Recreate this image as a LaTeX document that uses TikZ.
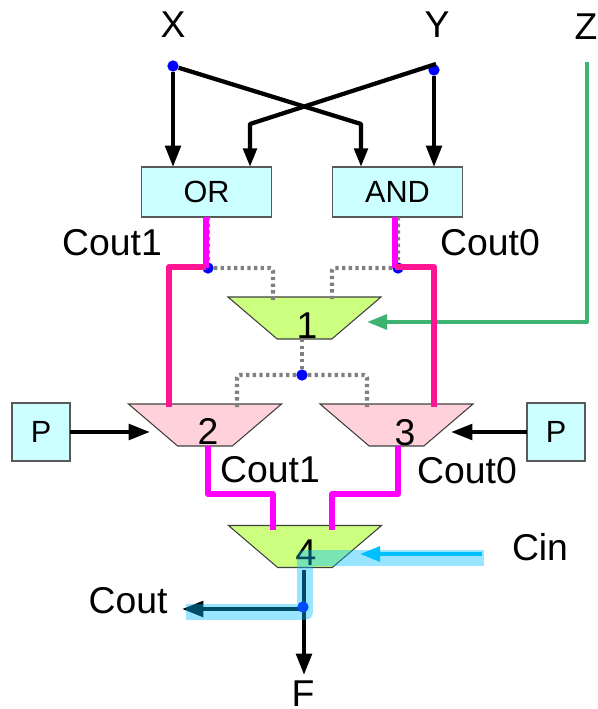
\documentclass[tikz,border=0pt]{standalone}
\usepackage{fontspec}
\setmainfont{Liberation Sans}
\usetikzlibrary{arrows.meta, positioning, shapes.geometric}
\definecolor{boxcyan}{RGB}{204, 255, 255}
\definecolor{muxgreen}{RGB}{204, 255, 128}
\definecolor{muxpink}{RGB}{255, 209, 219}
\definecolor{hotpink}{RGB}{255, 20, 147}
\definecolor{hotmagenta}{RGB}{255, 0, 255}
\definecolor{selgreen}{RGB}{60, 179, 113}
\definecolor{carryblue}{RGB}{0, 191, 255}
\tikzset{
  blockbox/.style={rectangle, draw=black!65, fill=boxcyan, line width=0.8pt, outer sep=0pt,
              font=\fontsize{23}{25}\selectfont},
  mux/.style={trapezium, shape border rotate=180, trapezium left angle=48, trapezium right angle=48,
              trapezium stretches=true, minimum width=114.75pt, minimum height=31.5pt,
              inner sep=1pt, outer sep=0pt, draw=black!75, line width=0.8pt},
  muxnum/.style={anchor=base, inner sep=0pt, font=\fontsize{28}{30}\selectfont},
  name label/.style={anchor=base, inner sep=0pt, font=\fontsize{28}{30}\selectfont},
  junction/.style={circle, fill=blue, inner sep=0pt, minimum size=8.5pt},
  flow/.style={-{Triangle[length=16pt, width=11.5pt]}, line width=3.2pt, draw=black, line join=round},
  flowsmall/.style={-{Triangle[length=14pt, width=10pt]}, line width=3.2pt, draw=black, line join=round},
  dotted link/.style={draw=black!50, line width=3.2pt, dash pattern=on 2.5pt off 2.5pt, rounded corners=2pt},
  pinkline/.style={draw=hotpink, line width=4.4pt, line join=round},
  magline/.style={draw=hotmagenta, line width=4.4pt, line join=round},
  selflow/.style={-{Triangle[length=15pt, width=11pt]}, draw=selgreen, line width=3pt, line join=round},
  carryflow/.style={-{Triangle[length=15pt, width=11pt]}, draw=carryblue, line width=3pt},
  carrypath/.style={draw=carryblue, opacity=0.4, line width=12pt, line join=round},
}
\begin{document}
\begin{tikzpicture}[x=0.75pt, y=-0.75pt]
    \useasboundingbox (0,0) rectangle (598,709);

    % blocks
    \node[blockbox, minimum width=98pt, minimum height=37.5pt] (orbox) at (206.5,192) {OR};
    \node[blockbox, minimum width=98pt, minimum height=37.5pt] (andbox) at (397.5,192) {AND};
    \node[blockbox, minimum width=43.5pt, minimum height=43.5pt] (pleft) at (41,432) {P};
    \node[blockbox, minimum width=43.5pt, minimum height=43.5pt] (pright) at (556,432) {P};

    % muxes
    \node[mux, fill=muxgreen] (muxone) at (304.5,318) {};
    \node[mux, fill=muxpink] (muxtwo) at (205,425) {};
    \node[mux, fill=muxpink] (muxthree) at (396.5,425) {};
    \node[mux, fill=muxgreen] (muxfour) at (305,546.5) {};

    \node[muxnum] (numone) at (307,338) {1};
    \node[muxnum] (numtwo) at (208,444) {2};
    \node[muxnum] (numthree) at (405,445) {3};
    \node[muxnum] (numfour) at (306,565) {4};

    % junctions and bends
    \node[junction] (dotx) at (173,66) {};
    \node[junction] (doty) at (434,70) {};
    \node[junction] (dotcoutl) at (208,268) {};
    \node[junction] (dotcoutr) at (398,268) {};
    \node[junction] (dotmid) at (302,375) {};
    \coordinate (ystart) at (436,64);
    \coordinate (bendor) at (250,124);
    \coordinate (bendand) at (361,124);
    \coordinate (zstart) at (587,62);
    \coordinate (zbend) at (587,322);
    \coordinate (cinstart) at (482,554);
    \coordinate (cinend) at (360,554);
    \coordinate (outjoin) at (304,609);
    \coordinate (coutend) at (182,609);
    \coordinate (ftip) at (304,675);

    % labels
    \node[name label] (xlabel) at (173,38) {X};
    \node[name label] (ylabel) at (437,38) {Y};
    \node[name label] (zlabel) at (586,40) {Z};
    \node[name label] (coutonea) at (112,255) {Cout1};
    \node[name label] (coutzeroa) at (490,255) {Cout0};
    \node[name label] (coutoneb) at (270,482) {Cout1};
    \node[name label] (coutzerob) at (467,483) {Cout0};
    \node[name label] (cinlabel) at (540,560) {Cin};
    \node[name label] (coutlabel) at (128,613) {Cout};
    \node[name label] (flabel) at (303,706) {F};

    % select lines
    \draw[dotted link] (orbox.south -| dotcoutl) -- (dotcoutl) -- (273,268) -- (273,302);
    \draw[dotted link] (andbox.south -| dotcoutr) -- (dotcoutr) -- (332,268) -- (332,302);
    \draw[dotted link] (302,339) -- (dotmid);
    \draw[dotted link] (dotmid) -- (237,375) -- (237,408);
    \draw[dotted link] (dotmid) -- (367,375) -- (367,408);

    % inputs
    \draw[flow] (dotx) -- (dotx |- orbox.north);
    \draw[flow] (doty) -- (doty |- andbox.north);
    \draw[flowsmall] (dotx) -- (bendand) -- (bendand |- andbox.north);
    \draw[flowsmall] (ystart) -- (bendor) -- (bendor |- orbox.north);
    \draw[flow] (pleft.east) -- (150,432);
    \draw[flow] (pright.west) -- (451,432);
    \draw[selflow] (zstart) -- (zbend) -- (367,322);

    % carry lines
    \draw[magline] (206,217) -- (206,268);
    \draw[magline] (395,217) -- (395,268);
    \draw[pinkline] (206,267) -- (169,267) -- (169,407);
    \draw[pinkline] (395,267) -- (434,267) -- (434,407);
    \draw[magline] (208,446) -- (208,494) -- (273,494) -- (273,530);
    \draw[magline] (398,446) -- (398,494) -- (332,494) -- (332,530);

    % outputs
    \draw[flow] (304,570) -- (ftip);
    \draw[flow] (outjoin) -- (coutend);
    \draw[carryflow] (cinstart) -- (cinend);
    \node[junction] (dotout) at (303,607) {};

    % carry path highlight
    \draw[carrypath] (484,558) -- (305,558) -- (305,612) -- (186,612);
\end{tikzpicture}
\end{document}
